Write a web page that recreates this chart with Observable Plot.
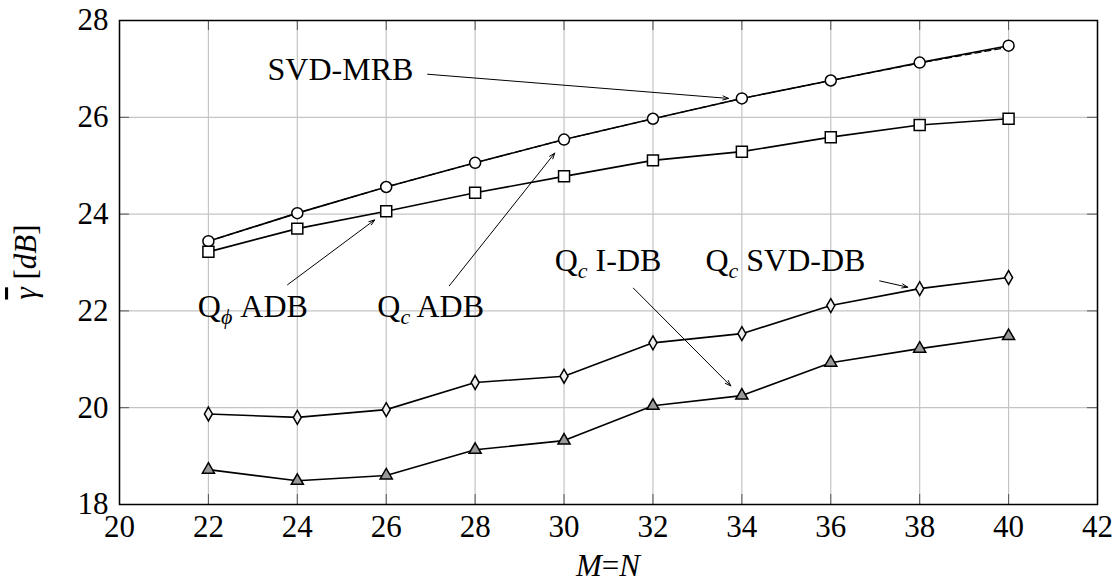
<!DOCTYPE html>
<html>
<head>
<meta charset="utf-8">
<script src="https://cdn.jsdelivr.net/npm/d3@7"></script>
<script src="https://cdn.jsdelivr.net/npm/@observablehq/plot@0.6"></script>
<style>
  body { margin: 0; background: #fff; }
  svg { display: block; }
  svg text { font-family: "Liberation Serif", "Times New Roman", serif !important; }
</style>
</head>
<body>
<div id="chart"></div>
<script>
// Array size M = N
const sizes = [22, 24, 26, 28, 30, 32, 34, 36, 38, 40];

// Average gain (dB) per scheme
const svdMrb    = [23.44, 24.02, 24.56, 25.06, 25.54, 25.97, 26.39, 26.76, 27.12, 27.45];
const qcAdb     = [23.44, 24.02, 24.56, 25.06, 25.54, 25.97, 26.39, 26.76, 27.13, 27.48];
const qphiAdb   = [23.22, 23.70, 24.06, 24.44, 24.78, 25.11, 25.29, 25.59, 25.84, 25.97];
const qcSvdDb   = [19.87, 19.80, 19.96, 20.52, 20.65, 21.34, 21.53, 22.11, 22.46, 22.69];
const qcIDb     = [18.72, 18.49, 18.60, 19.13, 19.32, 20.04, 20.25, 20.93, 21.22, 21.48];

// Axis ticks
const xTicks = [20, 22, 24, 26, 28, 30, 32, 34, 36, 38, 40, 42];
const yTicks = [18, 20, 22, 24, 26, 28];

// Callout labels (base, subscript, remainder) and their anchor / arrow points
const labelBase = ["SVD-MRB", "Q", "Q", "Q", "Q"];
const labelSub  = ["", "ϕ", "c", "c", "c"];
const labelRest = ["", " ADB", " ADB", " I-DB", " SVD-DB"];
const labelX    = [24.97, 23.0, 27.0, 30.99, 34.98];
const labelY    = [26.99, 22.08, 22.08, 23.03, 23.03];
const arrowX1   = [26.93, 23.78, 27.42, 31.56, 37.10];
const arrowY1   = [26.89, 22.54, 22.52, 22.47, 22.62];
const arrowX2   = [33.70, 25.74, 29.79, 33.75, 37.73];
const arrowY2   = [26.39, 23.88, 25.26, 20.45, 22.49];

const series = (vals) => sizes.map((n, i) => ({n, v: vals[i]}));
const labels = labelBase.map((b, i) => ({
  base: b, sub: labelSub[i], rest: labelRest[i],
  x: labelX[i], y: labelY[i],
  x1: arrowX1[i], y1: arrowY1[i], x2: arrowX2[i], y2: arrowY2[i]
}));

const FONT = "'Liberation Serif', 'Times New Roman', serif";
const W = 1117, H = 584;
const mL = 119, mR = 20, mT = 20, mB = 80;
const innerW = W - mL - mR, innerH = H - mT - mB;
const tickLen = 10;

const lineStyle = {x: "n", y: "v", stroke: "black", strokeWidth: 1.6};
const dotStyle = {x: "n", y: "v", stroke: "black", strokeWidth: 1.5};

const chart = Plot.plot({
  width: W, height: H,
  marginLeft: mL, marginRight: mR, marginTop: mT, marginBottom: mB,
  style: {fontFamily: FONT, background: "white", color: "black"},
  x: {domain: [20, 42]},
  y: {domain: [18, 28]},
  marks: [
    Plot.gridX(xTicks, {stroke: "#c4c4c4", strokeOpacity: 1, strokeWidth: 1.2}),
    Plot.gridY(yTicks, {stroke: "#c4c4c4", strokeOpacity: 1, strokeWidth: 1.2}),
    // inward ticks on all four sides
    Plot.tickX(xTicks, {x: d => d, insetTop: innerH - tickLen, stroke: "#555", strokeWidth: 1}),
    Plot.tickX(xTicks, {x: d => d, insetBottom: innerH - tickLen, stroke: "#555", strokeWidth: 1}),
    Plot.tickY(yTicks, {y: d => d, insetRight: innerW - tickLen, stroke: "#555", strokeWidth: 1}),
    Plot.tickY(yTicks, {y: d => d, insetLeft: innerW - tickLen, stroke: "#555", strokeWidth: 1}),
    Plot.axisX(xTicks, {tickSize: 0, tickPadding: 10, fontSize: 31, label: null, fill: "black"}),
    Plot.axisY(yTicks, {tickSize: 0, tickPadding: 11, fontSize: 31, label: null, fill: "black"}),

    Plot.line(series(qcAdb), lineStyle),
    Plot.line(series(svdMrb), {...lineStyle, strokeWidth: 1.2, strokeDasharray: "6,4"}),
    Plot.line(series(qphiAdb), lineStyle),
    Plot.line(series(qcSvdDb), lineStyle),
    Plot.line(series(qcIDb), lineStyle),

    Plot.dot(series(qcAdb), {...dotStyle, symbol: "circle", r: 5.5, fill: "white"}),
    Plot.dot(series(qphiAdb), {...dotStyle, symbol: "square", r: 6.2, fill: "white"}),
    Plot.dot(series(qcSvdDb), {...dotStyle, symbol: "diamond", r: 4.2, fill: "#eee"}),
    Plot.dot(series(qcIDb), {...dotStyle, symbol: "triangle", r: 4.5, fill: "#999"}),

    Plot.arrow(labels, {x1: "x1", y1: "y1", x2: "x2", y2: "y2", stroke: "black",
      strokeWidth: 1, headLength: 9, headAngle: 40, bend: 0}),
    Plot.text(labels, {x: "x", y: "y", text: d => d.base + d.sub + d.rest,
      fontSize: 32, fill: "black", textAnchor: "middle", lineAnchor: "middle"}),

    Plot.frame({stroke: "black", strokeWidth: 1.5})
  ]
});

const svg = d3.select(chart);

// Rebuild callout labels with italic subscripts
svg.selectAll("g[aria-label='text'] text").each(function(_, i) {
  const d = labels[i];
  if (!d || !d.sub) return;
  const t = d3.select(this).style("white-space", "pre");
  t.text(null);
  t.append("tspan").text(d.base);
  t.append("tspan").attr("font-size", 22).attr("font-style", "italic").attr("dy", 7).text(d.sub);
  t.append("tspan").attr("dy", -7).text(d.rest);
});

// x-axis title: M=N
const xt = svg.append("text")
  .attr("x", mL + innerW / 2).attr("y", 576)
  .attr("text-anchor", "middle")
  .attr("font-size", 31).attr("fill", "black");
xt.append("tspan").attr("font-style", "italic").text("M");
xt.append("tspan").text("=");
xt.append("tspan").attr("font-style", "italic").text("N");

// y-axis title: γ̄ [dB]
const yt = svg.append("text")
  .attr("transform", `translate(36, ${mT + innerH / 2}) rotate(-90)`)
  .attr("text-anchor", "middle")
  .attr("font-size", 31).attr("fill", "black")
  .style("white-space", "pre");
yt.append("tspan").attr("font-style", "italic").style("text-decoration", "overline").text("γ");
yt.append("tspan").text(" [");
yt.append("tspan").attr("font-style", "italic").text("dB");
yt.append("tspan").text("]");

document.getElementById("chart").append(chart);
</script>
</body>
</html>
